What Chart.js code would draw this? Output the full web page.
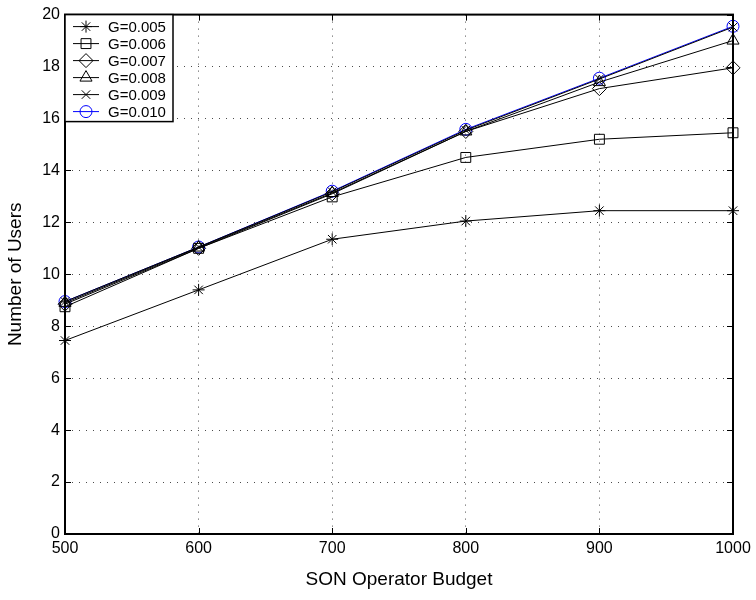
<!DOCTYPE html>
<html>
<head>
<meta charset="utf-8">
<script src="https://cdn.jsdelivr.net/npm/chart.js@4"></script>
<style>
  html, body { margin: 0; padding: 0; background: #fff; }
  #wrap { width: 756px; height: 600px; }
</style>
</head>
<body>
<div id="wrap"><canvas id="usersChart" width="756" height="600"></canvas></div>
<script>
// Presupuesto del operador (eje x)
const budgets = [500, 600, 700, 800, 900, 1000];

// Número de usuarios para cada valor de G
const g005 = [7.45, 9.4, 11.35, 12.05, 12.45, 12.45];
const g006 = [8.75, 11.0, 12.98, 14.5, 15.2, 15.45];
const g007 = [8.85, 11.0, 13.1, 15.5, 17.15, 17.95];
const g008 = [8.9, 11.03, 13.13, 15.5, 17.4, 19.0];
const g009 = [8.95, 11.05, 13.18, 15.55, 17.52, 19.52];
const g010 = [8.95, 11.05, 13.2, 15.58, 17.55, 19.55];

const seriesLabels = ['G=0.005', 'G=0.006', 'G=0.007', 'G=0.008', 'G=0.009', 'G=0.010'];
const seriesValues = [g005, g006, g007, g008, g009, g010];
const markers = ['star', 'rect', 'rectRot', 'triangle', 'crossRot', 'circle'];
const markerSizes = [6, 7, 7, 7, 6, 6];
const colors = ['#000', '#000', '#000', '#000', '#000', '#0000ff'];

const FONT = 'Liberation Sans, Arial, Helvetica, sans-serif';

const datasets = seriesValues.map((vals, i) => ({
    label: seriesLabels[i],
    data: vals.map((v, j) => ({ x: budgets[j], y: v })),
    borderColor: colors[i],
    backgroundColor: 'rgba(0,0,0,0)',
    borderWidth: 1,
    pointStyle: markers[i],
    pointRadius: markerSizes[i],
    pointBorderWidth: 1,
    pointBorderColor: colors[i],
    pointBackgroundColor: 'rgba(0,0,0,0)',
    tension: 0,
    fill: false,
    clip: false
}));

// Marco del gráfico con marcas hacia adentro (estilo Matlab)
const framePlugin = {
    id: 'frame',
    afterDatasetsDraw(chart) {
        const { ctx, chartArea: a, scales } = chart;
        ctx.save();
        ctx.strokeStyle = '#000';
        ctx.lineWidth = 1;
        const len = 6;
        ctx.beginPath();
        scales.x.ticks.forEach(t => {
            const px = Math.round(scales.x.getPixelForValue(t.value)) + 0.5;
            ctx.moveTo(px, a.bottom); ctx.lineTo(px, a.bottom - len);
            ctx.moveTo(px, a.top); ctx.lineTo(px, a.top + len);
        });
        scales.y.ticks.forEach(t => {
            const py = Math.round(scales.y.getPixelForValue(t.value)) + 0.5;
            ctx.moveTo(a.left, py); ctx.lineTo(a.left + len, py);
            ctx.moveTo(a.right, py); ctx.lineTo(a.right - len, py);
        });
        ctx.stroke();
        ctx.lineWidth = 2;
        ctx.strokeRect(a.left, a.top, a.right - a.left, a.bottom - a.top);
        ctx.restore();
    }
};

// Leyenda con caja, línea y marcador
const legendBoxPlugin = {
    id: 'legendBox',
    afterDraw(chart) {
        const { ctx, chartArea: a } = chart;
        const x0 = a.left, y0 = a.top, w = 108, h = 107;
        ctx.save();
        ctx.fillStyle = '#fff';
        ctx.fillRect(x0, y0, w, h);
        ctx.strokeStyle = '#000';
        ctx.lineWidth = 1.5;
        ctx.strokeRect(x0, y0, w, h);
        ctx.font = '15px ' + FONT;
        ctx.textBaseline = 'middle';
        datasets.forEach((ds, i) => {
            const y = y0 + 12 + i * 17;
            ctx.strokeStyle = ds.borderColor;
            ctx.lineWidth = 1;
            ctx.beginPath();
            ctx.moveTo(x0 + 8, y);
            ctx.lineTo(x0 + 34, y);
            ctx.stroke();
            ctx.fillStyle = 'rgba(0,0,0,0)';
            Chart.helpers.drawPoint(ctx, {
                pointStyle: ds.pointStyle,
                radius: ds.pointRadius,
                rotation: 0,
                borderWidth: 1
            }, x0 + 21, y);
            ctx.fillStyle = '#000';
            ctx.fillText(ds.label, x0 + 43, y + 1);
        });
        ctx.restore();
    }
};

new Chart(document.getElementById('usersChart'), {
    type: 'line',
    data: { datasets },
    plugins: [framePlugin, legendBoxPlugin],
    options: {
        responsive: false,
        animation: false,
        layout: { padding: { top: 10, right: 23, left: 0, bottom: 0 } },
        plugins: {
            legend: { display: false },
            tooltip: { enabled: false }
        },
        scales: {
            x: {
                type: 'linear',
                min: 500,
                max: 1000,
                afterFit(scale) { scale.height = 66; },
                ticks: {
                    stepSize: 100,
                    padding: 5,
                    color: '#000',
                    font: { family: FONT, size: 16 },
                    callback: v => String(v)
                },
                grid: {
                    color: 'rgba(0,0,0,0.7)',
                    lineWidth: 1,
                    drawTicks: false
                },
                border: { display: false, dash: [1, 6] },
                title: {
                    display: true,
                    text: 'SON Operator Budget',
                    color: '#000',
                    font: { family: FONT, size: 19 },
                    padding: { top: 0, bottom: 9 }
                }
            },
            y: {
                min: 0,
                max: 20,
                afterFit(scale) { scale.width = 65; },
                ticks: {
                    stepSize: 2,
                    padding: 5,
                    color: '#000',
                    font: { family: FONT, size: 16 },
                    callback: v => String(v)
                },
                grid: {
                    color: 'rgba(0,0,0,0.7)',
                    lineWidth: 1,
                    drawTicks: false
                },
                border: { display: false, dash: [1, 6] },
                title: {
                    display: true,
                    text: 'Number of Users',
                    color: '#000',
                    font: { family: FONT, size: 19 },
                    padding: { top: 4, bottom: 0 }
                }
            }
        }
    }
});
</script>
</body>
</html>
